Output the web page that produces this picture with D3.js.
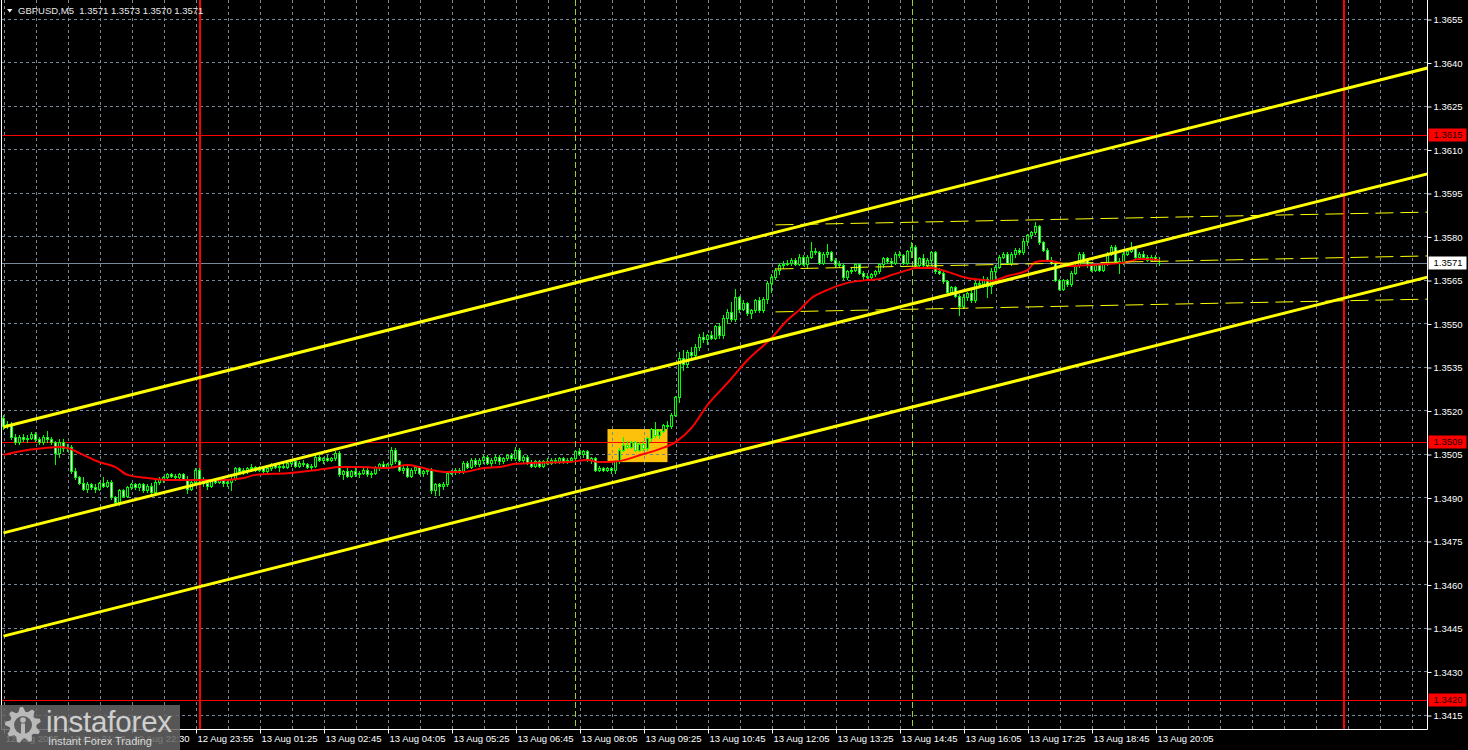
<!DOCTYPE html>
<html><head><meta charset="utf-8">
<script src="https://cdn.jsdelivr.net/npm/d3@7"></script>
<style>
html,body{margin:0;padding:0;background:#000;overflow:hidden}
svg{display:block}
text{font-family:"Liberation Sans",Arial,sans-serif}
</style></head><body>
<svg id="chart" width="1468" height="750"></svg>
<script>
// ---------------- DATA ----------------
const symbol = "GBPUSD,M5";
// 5-minute bars: [open, high, low, close]
const bars = [
[1.35175,1.35185,1.35135,1.35145],[1.35145,1.35165,1.3514,1.35155],[1.35155,1.3516,1.351,1.3511],[1.3511,1.3512,1.35085,1.3509],
[1.3509,1.35115,1.35085,1.3511],[1.3511,1.3512,1.35095,1.351],[1.351,1.35115,1.3509,1.35105],[1.35105,1.35125,1.351,1.3512],
[1.3512,1.35125,1.35095,1.351],[1.351,1.3511,1.35085,1.3509],[1.3509,1.35115,1.35085,1.3511],[1.3511,1.3513,1.3509,1.351],
[1.351,1.3511,1.35085,1.3509],[1.3509,1.35095,1.35015,1.35055],[1.35055,1.351,1.3504,1.3509],[1.3509,1.351,1.3506,1.3507],
[1.3507,1.35085,1.3506,1.35075],[1.35075,1.3508,1.34985,1.3499],[1.3499,1.35,1.34965,1.3497],[1.3497,1.34975,1.34945,1.3495],
[1.3495,1.3497,1.34925,1.3493],[1.3493,1.34955,1.3492,1.34945],[1.34945,1.3495,1.3493,1.34935],[1.34935,1.34945,1.3492,1.3493],
[1.3493,1.34955,1.34925,1.3495],[1.3495,1.3497,1.34935,1.3494],[1.3494,1.3496,1.34935,1.34955],[1.34955,1.3496,1.34895,1.349],
[1.349,1.34905,1.3488,1.34885],[1.34885,1.3493,1.34875,1.34925],[1.34925,1.3493,1.349,1.34905],[1.34905,1.3494,1.349,1.34935],
[1.34935,1.3495,1.3493,1.34945],[1.34945,1.3495,1.3493,1.34935],[1.34935,1.3495,1.34925,1.34945],[1.34945,1.3495,1.3492,1.34925],
[1.34925,1.34945,1.3492,1.3494],[1.3494,1.3495,1.3491,1.3492],[1.3492,1.3496,1.34915,1.34955],[1.34955,1.3497,1.34945,1.34965],
[1.34965,1.34975,1.34955,1.3497],[1.3497,1.34985,1.3496,1.3498],[1.3498,1.34985,1.3497,1.34975],[1.34975,1.3498,1.34965,1.3497],
[1.3497,1.34985,1.34965,1.3498],[1.3498,1.34985,1.3496,1.34965],[1.34965,1.34975,1.34915,1.3493],[1.3493,1.34965,1.34925,1.34955],
[1.34955,1.35,1.3495,1.34995],[1.34995,1.35,1.34955,1.3496],[1.3496,1.3497,1.3494,1.3495],[1.3495,1.3496,1.3493,1.3494],
[1.3494,1.34965,1.34935,1.3496],[1.3496,1.34965,1.3495,1.34955],[1.34955,1.3497,1.3495,1.34965],[1.34965,1.3497,1.3494,1.3495],
[1.3495,1.3496,1.3494,1.34955],[1.34955,1.3497,1.34925,1.34965],[1.34965,1.35005,1.3496,1.35],[1.35,1.35005,1.34985,1.3499],
[1.3499,1.35,1.3498,1.34995],[1.34995,1.35005,1.34985,1.35],[1.35,1.35015,1.3499,1.35005],[1.35005,1.3501,1.3499,1.34995],
[1.34995,1.3501,1.3499,1.35005],[1.35005,1.3501,1.34985,1.3499],[1.3499,1.35005,1.34985,1.35],[1.35,1.3502,1.34995,1.35015],
[1.35015,1.3502,1.35,1.35005],[1.35005,1.35015,1.3499,1.3501],[1.3501,1.3502,1.35,1.35005],[1.35005,1.35025,1.35,1.3502],
[1.3502,1.3503,1.3501,1.35025],[1.35025,1.3503,1.35005,1.3501],[1.3501,1.35025,1.35005,1.3502],[1.3502,1.3503,1.3501,1.35015],
[1.35015,1.3502,1.35,1.35005],[1.35005,1.35015,1.34995,1.3501],[1.3501,1.35045,1.35005,1.3504],[1.3504,1.35045,1.35025,1.3503],
[1.3503,1.3504,1.3502,1.35035],[1.35035,1.35045,1.35025,1.3503],[1.3503,1.3504,1.35025,1.35035],[1.35035,1.3506,1.3503,1.35055],
[1.35055,1.3506,1.34975,1.3498],[1.3498,1.34995,1.34965,1.3499],[1.3499,1.35,1.3497,1.34975],[1.34975,1.34995,1.3497,1.3499],
[1.3499,1.35,1.34975,1.3498],[1.3498,1.3499,1.3497,1.34985],[1.34985,1.35,1.3498,1.34995],[1.34995,1.35,1.34975,1.3498],
[1.3498,1.3499,1.3497,1.34985],[1.34985,1.3501,1.3498,1.35005],[1.35005,1.3502,1.34995,1.35015],[1.35015,1.35025,1.35,1.35005],
[1.35005,1.3502,1.35,1.35015],[1.35015,1.35075,1.3501,1.35065],[1.35065,1.3507,1.3502,1.35025],[1.35025,1.3503,1.3499,1.34995],
[1.34995,1.3501,1.34985,1.35],[1.35,1.35015,1.3497,1.34975],[1.34975,1.35,1.3497,1.34995],[1.34995,1.3501,1.34985,1.35005],
[1.35005,1.3501,1.3498,1.34985],[1.34985,1.34995,1.34975,1.3499],[1.3499,1.35,1.3498,1.34995],[1.34995,1.35,1.34915,1.34925],
[1.34925,1.3495,1.3491,1.34945],[1.34945,1.3495,1.3491,1.3494],[1.3494,1.34955,1.3493,1.34945],[1.34945,1.3499,1.3494,1.34985],
[1.34985,1.34995,1.3498,1.3499],[1.3499,1.35,1.3498,1.34995],[1.34995,1.35,1.34985,1.3499],[1.3499,1.35025,1.34985,1.3502],
[1.3502,1.35025,1.35,1.35005],[1.35005,1.35035,1.35,1.3503],[1.3503,1.35035,1.3501,1.35015],[1.35015,1.35035,1.3501,1.3503],
[1.3503,1.35045,1.3502,1.3504],[1.3504,1.35045,1.35015,1.3502],[1.3502,1.35035,1.3501,1.3503],[1.3503,1.35045,1.3502,1.3504],
[1.3504,1.35045,1.35015,1.35025],[1.35025,1.3504,1.3502,1.35035],[1.35035,1.3505,1.3503,1.35045],[1.35045,1.35055,1.3503,1.35035],
[1.35035,1.35075,1.3503,1.35065],[1.35065,1.3507,1.35025,1.3503],[1.3503,1.35045,1.3502,1.3504],[1.3504,1.35045,1.35015,1.3502],
[1.3502,1.3503,1.35005,1.3501],[1.3501,1.3503,1.35005,1.35025],[1.35025,1.3503,1.35005,1.3501],[1.3501,1.3503,1.35005,1.35025],
[1.35025,1.35035,1.35015,1.3502],[1.3502,1.35035,1.35015,1.3503],[1.3503,1.35035,1.3502,1.35025],[1.35025,1.3504,1.3502,1.35035],
[1.35035,1.3504,1.3502,1.35025],[1.35025,1.35035,1.3502,1.3503],[1.3503,1.3504,1.35025,1.35035],[1.35035,1.35065,1.3503,1.3506],
[1.3506,1.3507,1.35045,1.3505],[1.3505,1.35065,1.3504,1.3506],[1.3506,1.35065,1.35025,1.3503],[1.3503,1.3504,1.3502,1.35035],
[1.35035,1.3504,1.3499,1.34995],[1.34995,1.3501,1.3499,1.35],[1.35,1.35005,1.3499,1.34995],[1.34995,1.35005,1.3499,1.35],
[1.35,1.35005,1.34985,1.34995],[1.34995,1.3503,1.34985,1.35025],[1.35025,1.3507,1.3502,1.35065],[1.35065,1.3511,1.3506,1.3508],
[1.3508,1.35095,1.3507,1.35075],[1.35075,1.35095,1.3507,1.3509],[1.3509,1.35095,1.3506,1.35065],[1.35065,1.3509,1.3506,1.35085],
[1.35085,1.35095,1.35065,1.3507],[1.3507,1.3511,1.35065,1.35105],[1.35105,1.3514,1.35095,1.35135],[1.35135,1.3516,1.3511,1.35115],
[1.35115,1.35135,1.35105,1.3513],[1.3513,1.35155,1.35125,1.3515],[1.3515,1.35165,1.3514,1.35145],[1.35145,1.3519,1.3514,1.35185],
[1.35185,1.3525,1.3518,1.35245],[1.35245,1.354,1.3523,1.3538],[1.3538,1.3541,1.3534,1.3536],[1.3536,1.3541,1.3535,1.354],
[1.354,1.3542,1.3538,1.3539],[1.3539,1.3543,1.3538,1.3542],[1.3542,1.35465,1.3541,1.35455],[1.35455,1.3547,1.35435,1.35445],
[1.35445,1.35465,1.3543,1.3546],[1.3546,1.35475,1.35445,1.3545],[1.3545,1.35495,1.35445,1.3549],[1.3549,1.355,1.3545,1.3546],
[1.3546,1.3553,1.3545,1.3552],[1.3552,1.3555,1.355,1.3554],[1.3554,1.35575,1.3551,1.35515],[1.35515,1.3562,1.3551,1.3559],
[1.3559,1.35595,1.3554,1.3555],[1.3555,1.3558,1.35545,1.3557],[1.3557,1.35575,1.3553,1.35535],[1.35535,1.3555,1.3552,1.35545],
[1.35545,1.35585,1.3554,1.3558],[1.3558,1.3559,1.3554,1.35545],[1.35545,1.3559,1.3554,1.35585],[1.35585,1.35645,1.3557,1.3564],
[1.3564,1.3567,1.3561,1.3566],[1.3566,1.3569,1.35655,1.35685],[1.35685,1.3571,1.3567,1.357],[1.357,1.35715,1.3569,1.35705],
[1.35705,1.3572,1.357,1.3571],[1.3571,1.35725,1.357,1.3572],[1.3572,1.35725,1.357,1.35705],[1.35705,1.3574,1.357,1.3573],
[1.3573,1.35735,1.357,1.35705],[1.35705,1.35735,1.3569,1.3573],[1.3573,1.3578,1.35725,1.3575],[1.3575,1.3576,1.3574,1.35745],
[1.35745,1.3575,1.35705,1.3571],[1.3571,1.35745,1.35705,1.3574],[1.3574,1.35775,1.3573,1.35745],[1.35745,1.3575,1.35715,1.3572],
[1.3572,1.35725,1.35695,1.35705],[1.35705,1.35715,1.35695,1.357],[1.357,1.3571,1.35655,1.3566],[1.3566,1.35685,1.35655,1.3568],
[1.3568,1.3569,1.35675,1.35685],[1.35685,1.3571,1.3568,1.35705],[1.35705,1.3571,1.3567,1.35675],[1.35675,1.3568,1.35655,1.35665],
[1.35665,1.35675,1.35655,1.3566],[1.3566,1.35675,1.35655,1.3567],[1.3567,1.35685,1.35665,1.3568],[1.3568,1.3571,1.35675,1.35705],
[1.35705,1.3573,1.35695,1.35725],[1.35725,1.3573,1.3571,1.35715],[1.35715,1.35725,1.357,1.3571],[1.3571,1.35745,1.35705,1.3574],
[1.3574,1.3575,1.3573,1.35735],[1.35735,1.3574,1.35705,1.3571],[1.3571,1.35755,1.35705,1.3575],[1.3575,1.3578,1.3573,1.35765],
[1.35765,1.3577,1.35695,1.357],[1.357,1.3573,1.35695,1.35725],[1.35725,1.3574,1.35695,1.357],[1.357,1.35725,1.35695,1.3572],
[1.3572,1.3575,1.357,1.35745],[1.35745,1.3575,1.35675,1.3568],[1.3568,1.3569,1.3567,1.35675],[1.35675,1.3568,1.3564,1.35645],
[1.35645,1.3565,1.35605,1.3561],[1.3561,1.3563,1.35605,1.35625],[1.35625,1.3563,1.3559,1.35595],[1.35595,1.356,1.3553,1.3556],
[1.3556,1.356,1.35555,1.3559],[1.3559,1.3561,1.3558,1.35605],[1.35605,1.35615,1.35575,1.3558],[1.3558,1.35645,1.35575,1.3564],
[1.3564,1.3565,1.3563,1.35635],[1.35635,1.35665,1.35625,1.35655],[1.35655,1.3566,1.3559,1.3563],[1.3563,1.3569,1.35605,1.3568],
[1.3568,1.357,1.35645,1.35695],[1.35695,1.35735,1.3569,1.3573],[1.3573,1.35745,1.35725,1.3574],[1.3574,1.35745,1.35705,1.3571],
[1.3571,1.35745,1.357,1.3574],[1.3574,1.3576,1.3573,1.35755],[1.35755,1.3576,1.3574,1.35745],[1.35745,1.35795,1.3574,1.35785],
[1.35785,1.3581,1.3577,1.35805],[1.35805,1.3582,1.35795,1.35815],[1.35815,1.3585,1.3581,1.35835],[1.35835,1.3584,1.35775,1.3578],
[1.3578,1.35785,1.3575,1.35755],[1.35755,1.3576,1.35715,1.3572],[1.3572,1.3573,1.35705,1.3571],[1.3571,1.35715,1.35645,1.3565],
[1.3565,1.35655,1.35615,1.3562],[1.3562,1.35655,1.35615,1.3565],[1.3565,1.35655,1.3563,1.35635],[1.35635,1.3568,1.3563,1.35675],
[1.35675,1.35705,1.3567,1.357],[1.357,1.35745,1.35695,1.3574],[1.3574,1.35745,1.3571,1.3572],[1.3572,1.35725,1.35695,1.357],
[1.357,1.3571,1.3568,1.35685],[1.35685,1.35705,1.3568,1.357],[1.357,1.35705,1.3568,1.35685],[1.35685,1.3571,1.3568,1.35705],
[1.35705,1.35745,1.357,1.3574],[1.3574,1.3577,1.35735,1.35765],[1.35765,1.3577,1.3571,1.35715],[1.35715,1.35725,1.35675,1.3571],
[1.3571,1.35745,1.35705,1.3574],[1.3574,1.35755,1.35735,1.3575],[1.3575,1.3578,1.35745,1.3576],[1.3576,1.35765,1.35725,1.3573],
[1.3573,1.35745,1.35725,1.3574],[1.3574,1.3575,1.35725,1.3573],[1.3573,1.35735,1.35715,1.3572],[1.3572,1.35735,1.35715,1.3573],
[1.3573,1.35735,1.35715,1.3572],[1.3571,1.3573,1.357,1.3571]
];
// moving average (red), read at bar positions
const maBars =   [0,6,10,14,16,19,24,28,31,36,41,49,55,60,63,71,80,84,88,96,101,104,107,111,115,120,124,128,132,141,146,149,153,160,164,168,172,176,181,186,192,196,199,202,206,211,216,219,222,226,228,232,236,241,245,247,251,256,258,261,264,266,272,281,284,289];
const maValues = [1.35047,1.35064,1.3507,1.35074,1.35071,1.35053,1.35022,1.35005,1.34978,1.34967,1.3496,1.3496,1.3496,1.34967,1.34978,1.34984,1.34998,1.35005,1.35005,1.35002,1.35012,1.35005,1.34995,1.34988,1.34988,1.35002,1.35005,1.35016,1.35019,1.35022,1.35029,1.35022,1.35024,1.3505,1.35067,1.35091,1.3514,1.35219,1.35295,1.35374,1.3545,1.35512,1.35547,1.35588,1.35616,1.3564,1.3565,1.35653,1.35667,1.35684,1.35691,1.35691,1.35678,1.35657,1.3565,1.35647,1.35664,1.35684,1.35712,1.35716,1.35709,1.35698,1.35702,1.35712,1.35722,1.35719];
const priceTicks = [1.3415,1.3430,1.3445,1.3460,1.3475,1.3490,1.3505,1.3520,1.3535,1.3550,1.3565,1.3580,1.3595,1.3610,1.3625,1.3640,1.3655];
const timeTickBars = [0,16,32,48,64,80,96,112,128,144,160,176,192,208,224,240,256,272,288];
const timeTickLabels = ["12 Aug 2025","12 Aug 21:10","12 Aug 22:30","12 Aug 23:55","13 Aug 01:25","13 Aug 02:45","13 Aug 04:05","13 Aug 05:25","13 Aug 06:45","13 Aug 08:05","13 Aug 09:25","13 Aug 10:45","13 Aug 12:05","13 Aug 13:25","13 Aug 14:45","13 Aug 16:05","13 Aug 17:25","13 Aug 18:45","13 Aug 20:05"];
const levelPrices = [1.3615, 1.3509, 1.3420];
const currentPrice = 1.3571;
const daySeparatorBars = [49, 335];
const sessionBars = [143, 227];
const channelBars = [0, 356];
const channelStartPrices = [1.35143, 1.34778, 1.34422];
const channelEndPrices   = [1.36381, 1.36016, 1.3566];
const dashedBars = [193, 356];
const dashedStartPrices = [1.3584, 1.35688, 1.3554];
const dashedEndPrices   = [1.35884, 1.35733, 1.35584];
const signalBoxBars = [151, 166];
const signalBoxPrices = [1.35136, 1.35022];
const lastBarIndexSpan = 356;

// ---------------- DRAW ----------------
const W = 1468, H = 750;
const left = 1.5, right = 1427.5, bottom = 729.5;
const svg = d3.select('#chart');
svg.append('rect').attr('width', W).attr('height', H).attr('fill', '#000');

const x = d3.scaleLinear().domain([0, lastBarIndexSpan]).range([3.5, 1427.5]);
const y = d3.scaleLinear().domain([1.3415, 1.3655]).range([715, 19]);
const py = p => Math.round(y(p)) + 0.5;

svg.append('defs').append('clipPath').attr('id', 'plotclip')
  .append('rect').attr('x', 2).attr('y', 0).attr('width', 1425).attr('height', 729);

const plot = svg.append('g').attr('clip-path', 'url(#plotclip)');
const GRID = '#778899';

// signal box (background)
plot.append('rect')
  .attr('x', x(signalBoxBars[0])).attr('width', x(signalBoxBars[1]) - x(signalBoxBars[0]))
  .attr('y', y(signalBoxPrices[0])).attr('height', y(signalBoxPrices[1]) - y(signalBoxPrices[0]))
  .attr('fill', '#fdc10c');

// grid
plot.append('g').selectAll('line').data(d3.range(0, lastBarIndexSpan + 1, 8)).join('line')
  .attr('x1', d => Math.round(x(d)) + 0.5).attr('x2', d => Math.round(x(d)) + 0.5)
  .attr('y1', 0).attr('y2', 729)
  .attr('stroke', GRID).attr('stroke-width', 1).attr('stroke-dasharray', '3,3');
plot.append('g').selectAll('line').data(priceTicks).join('line')
  .attr('x1', 2).attr('x2', 1427).attr('y1', d => py(d)).attr('y2', d => py(d))
  .attr('stroke', GRID).attr('stroke-width', 1).attr('stroke-dasharray', '3,3');

// horizontal levels
plot.append('g').selectAll('line').data(levelPrices).join('line')
  .attr('x1', 2).attr('x2', 1427).attr('y1', d => py(d)).attr('y2', d => py(d))
  .attr('stroke', '#ff0000').attr('stroke-width', 1);
plot.append('line').attr('x1', 2).attr('x2', 1427)
  .attr('y1', py(currentPrice)).attr('y2', py(currentPrice))
  .attr('stroke', '#778899').attr('stroke-width', 1);

// vertical lines
plot.append('g').selectAll('line').data(sessionBars).join('line')
  .attr('x1', d => Math.round(x(d)) + 0.5).attr('x2', d => Math.round(x(d)) + 0.5)
  .attr('y1', 0).attr('y2', 729)
  .attr('stroke', '#9acd32').attr('stroke-width', 1).attr('stroke-dasharray', '6,3');
plot.append('g').selectAll('line').data(daySeparatorBars).join('line')
  .attr('x1', d => Math.round(x(d))).attr('x2', d => Math.round(x(d)))
  .attr('y1', 0).attr('y2', 729)
  .attr('stroke', '#ff0000').attr('stroke-width', 2);

// candles
const cg = plot.append('g');
const LIME = '#00ff00';
cg.selectAll('line.wick').data(bars).join('line').attr('class', 'wick')
  .attr('x1', (d, i) => x(i)).attr('x2', (d, i) => x(i))
  .attr('y1', d => Math.round(y(d[1]))).attr('y2', d => Math.round(y(d[2])) + 1)
  .attr('stroke', LIME).attr('stroke-width', 1);
bars.forEach((d, i) => {
  const [o, h, l, c] = d;
  const top = Math.round(y(Math.max(o, c)));
  const bot = Math.round(y(Math.min(o, c)));
  const cx = x(i);
  if (bot - top < 1) {
    cg.append('line').attr('x1', cx - 1.5).attr('x2', cx + 1.5)
      .attr('y1', top + 0.5).attr('y2', top + 0.5).attr('stroke', LIME).attr('stroke-width', 1);
  } else {
    cg.append('rect').attr('x', cx - 1).attr('width', 2)
      .attr('y', top + 0.5).attr('height', bot - top)
      .attr('fill', c > o ? '#000' : '#fff').attr('stroke', LIME).attr('stroke-width', 1);
  }
});

// moving average
const ma = maBars.map((b, k) => [b, maValues[k]]);
plot.append('path').datum(ma)
  .attr('d', d3.line().x(d => x(d[0])).y(d => y(d[1])).curve(d3.curveMonotoneX))
  .attr('fill', 'none').attr('stroke', '#ff0000').attr('stroke-width', 2);

// channel lines
plot.append('g').selectAll('line').data(channelStartPrices).join('line')
  .attr('x1', x(channelBars[0])).attr('x2', x(channelBars[1]))
  .attr('y1', d => y(d)).attr('y2', (d, k) => y(channelEndPrices[k]))
  .attr('stroke', '#ffff00').attr('stroke-width', 3);
plot.append('g').selectAll('line').data(dashedStartPrices).join('line')
  .attr('x1', x(dashedBars[0])).attr('x2', x(dashedBars[1]))
  .attr('y1', d => y(d)).attr('y2', (d, k) => y(dashedEndPrices[k]))
  .attr('stroke', '#ffff00').attr('stroke-width', 1).attr('stroke-dasharray', '18,7');

// frame
const frame = svg.append('g').attr('stroke', '#fff').attr('stroke-width', 1);
frame.append('line').attr('x1', left).attr('x2', left).attr('y1', 0).attr('y2', bottom);
frame.append('line').attr('x1', right).attr('x2', right).attr('y1', 0).attr('y2', bottom);
frame.append('line').attr('x1', left).attr('x2', right).attr('y1', bottom).attr('y2', bottom);

// price axis
const yAxis = d3.axisRight(y).tickValues(priceTicks).tickFormat(d3.format('.4f')).tickSize(4).tickPadding(2);
const ya = svg.append('g').attr('transform', `translate(${right},0.5)`).call(yAxis);
ya.select('.domain').remove();
ya.selectAll('line').attr('stroke', '#fff');
ya.selectAll('text').attr('fill', '#fff').style('font-size', '9.5px');

// time axis
const xAxis = d3.axisBottom(x).tickValues(timeTickBars)
  .tickFormat((d, k) => timeTickLabels[k]).tickSize(4).tickPadding(1.5);
const xa = svg.append('g').attr('transform', `translate(0.5,${bottom})`).call(xAxis);
xa.select('.domain').remove();
xa.selectAll('line').attr('stroke', '#fff');
xa.selectAll('text').attr('fill', '#fff').attr('text-anchor', 'start').attr('x', 1).style('font-size', '9.5px');

// level labels
function priceTag(p, bg, fg) {
  const g = svg.append('g').attr('transform', `translate(${right + 1},${Math.round(y(p))})`);
  g.append('rect').attr('x', 0).attr('y', -6.5).attr('width', 38).attr('height', 13).attr('fill', bg);
  g.append('text').attr('x', 5).attr('y', 0).attr('dy', '0.34em').attr('fill', fg)
    .style('font-size', '9.5px').text(d3.format('.4f')(p));
}
levelPrices.forEach(p => priceTag(p, '#ff0000', '#2a0000'));
priceTag(currentPrice, '#ffffff', '#000000');

// header
const last = bars[bars.length - 1];
svg.append('path').attr('d', 'M7,9 L12.5,9 L9.75,12.5 Z').attr('fill', '#fff');
svg.append('text').attr('x', 18).attr('y', 14).attr('fill', '#e8e8e8').style('font-size', '9.5px')
  .attr('xml:space', 'preserve')
  .text(`${symbol}  ${last.map(v => d3.format('.4f')(v)).join(' ')}`);

// watermark logo
const logo = svg.append('g');
logo.append('rect').attr('x', 0).attr('y', 705).attr('width', 180).attr('height', 45)
  .attr('fill', '#646464').attr('opacity', 0.86);
const gcx = 23, gcy = 725, teeth = 9;
const gearPts = d3.range(teeth * 4).map(k => {
  const a = k / (teeth * 4) * 2 * Math.PI - Math.PI / 2;
  const r = (Math.floor((k + 1) / 2) % 2 === 0) ? 18 : 13.5;
  return [gcx + r * Math.cos(a), gcy + r * Math.sin(a)];
});
logo.append('path').attr('d', d3.line()(gearPts) + 'Z').attr('fill', '#b9b9b9');
logo.append('circle').attr('cx', gcx).attr('cy', gcy).attr('r', 9).attr('fill', '#5e5e5e');
logo.append('circle').attr('cx', gcx).attr('cy', gcy - 5).attr('r', 2.8).attr('fill', '#b9b9b9');
logo.append('rect').attr('x', gcx - 2).attr('y', gcy - 1.5).attr('width', 4).attr('height', 12).attr('fill', '#b9b9b9');
logo.append('text').attr('x', 46).attr('y', 732).attr('fill', '#cfcfcf')
  .style('font-size', '29.5px').style('letter-spacing', '-0.2px').text('instaforex');
logo.append('text').attr('x', 48).attr('y', 745).attr('fill', '#d6d6d6')
  .style('font-size', '11px').text('Instant Forex Trading');
</script>
</body></html>
